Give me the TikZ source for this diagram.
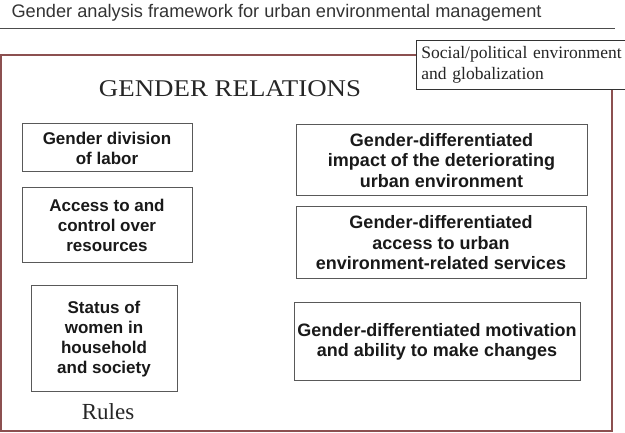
\documentclass[tikz,border=0pt]{standalone}
\usepackage{fontspec}
\setmainfont{Liberation Serif}
\setsansfont{Liberation Sans}
\newfontfamily\wideserif[FakeStretch=1.12]{Liberation Serif}
\definecolor{framebrown}{RGB}{140,80,80}
\tikzset{
  factor/.style={draw=black!65, line width=1pt, align=center, inner sep=0pt,
    font=\sffamily\bfseries\fontsize{17}{20}\selectfont, text=black!90},
  widefactor/.style={factor, font=\sffamily\bfseries\fontsize{18}{20.5}\selectfont},
}
\begin{document}
\begin{tikzpicture}[x=1pt,y=-1pt]
                \useasboundingbox (0,0) rectangle (625,433);
                % Title and rule
                \node[anchor=base west, font=\sffamily\fontsize{18.2}{21}\selectfont, text=black!80] (title) at (8,18) {Gender analysis framework for urban environmental management};
                \draw[black!70, line width=1pt] (0,29) -- (615,29);

                % Outer frame
                \draw[framebrown, line width=1.5pt] (1,55) rectangle (612,431);
                \node[anchor=base, font=\wideserif\fontsize{24}{28}\selectfont, text=black!85] (relations) at (230,97) {GENDER RELATIONS};

                %Left column
                \node[factor, minimum width=170pt, minimum height=48pt] (division) at (107,148) {Gender division\\of labor};
                \node[factor, minimum width=170pt, minimum height=75pt] (access) at (107,225.5) {Access to and\\control over\\resources};
                \node[factor, minimum width=146pt, minimum height=106pt] (status) at (104,339) {Status of\\women in\\household\\and society};
                \node[anchor=base, font=\fontsize{23}{26}\selectfont, text=black!85] (rules) at (108,419) {Rules};

                %Right column
                \node[widefactor, minimum width=291pt, minimum height=71pt] (impact) at (441.5,160.5) {Gender-differentiated\\impact of the deteriorating\\urban environment};
                \node[widefactor, minimum width=290pt, minimum height=72pt] (services) at (441,243) {Gender-differentiated\\access to urban\\environment-related services};
                \node[widefactor, minimum width=286pt, minimum height=78pt] (motivation) at (437,342) {Gender-differentiated motivation\\and ability to make changes};

                % Context box over the corner
                \node[draw=black!80, fill=white, line width=0.8pt, anchor=north west, text width=220pt, minimum height=49pt,
                      align=left, inner xsep=5pt, inner ysep=0pt, font=\fontsize{17.5}{21}\selectfont, text=black!85] (social) at (416,40)
                      {Social/political environment\\and globalization};
\end{tikzpicture}
\end{document}
